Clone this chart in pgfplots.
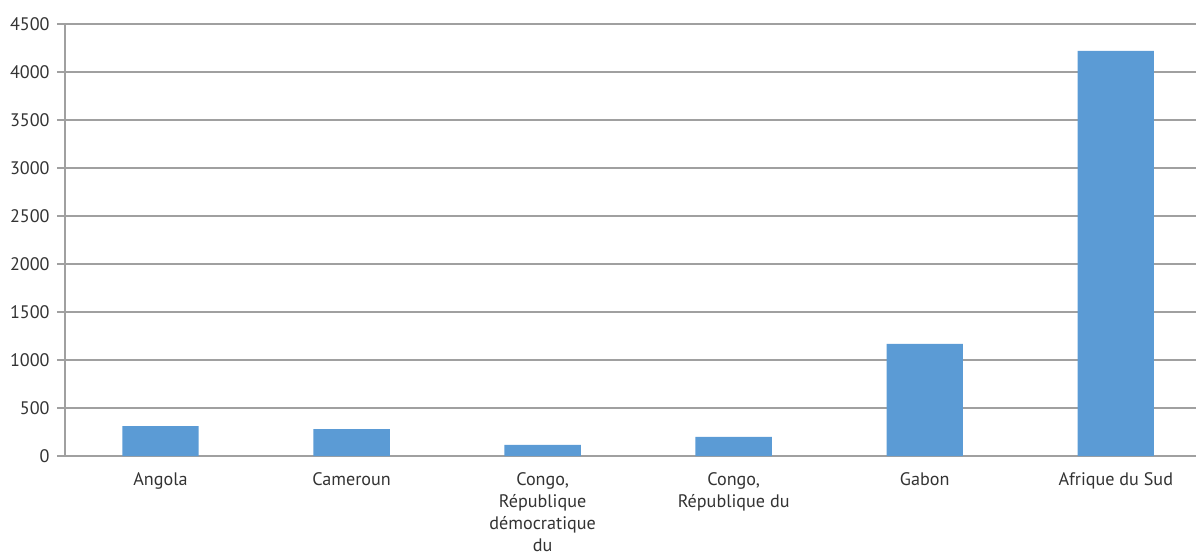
\documentclass[border=0pt]{standalone}
\usepackage{fontspec}
\setmainfont{PT Sans}
\usepackage{pgfplots}
\pgfplotsset{compat=1.18}
\definecolor{barblue}{HTML}{5B9BD5}
\definecolor{gridgray}{HTML}{A0A0A0}
\definecolor{labeltext}{HTML}{333333}
\begin{document}
\begin{tikzpicture}
\path[use as bounding box] (-48.75pt,-73.5pt) rectangle (848.25pt,342pt);
\begin{axis}[
  at={(0,0)}, anchor=south west,
  scale only axis,
  width=848.25pt, height=324pt,
  xmin=-0.5, xmax=5.42,
  ymin=0, ymax=4500,
  ytick={0,500,...,4500},
  axis x line*=bottom,
  axis y line*=left,
  axis line style={gridgray, line width=0.9pt},
  ymajorgrids,
  major grid style={gridgray, line width=0.9pt},
  tick align=outside,
  major tick length=6pt,
  tick style={gridgray, line width=0.9pt},
  xtick={0,...,5},
  xticklabels={Angola,Cameroun,{Congo,\\République\\démocratique\\du},{Congo,\\République du},Gabon,Afrique du Sud},
  x tick style={draw=none},
  extra x ticks={-0.5,0.5,1.5,2.5,3.5,4.5},
  extra x tick labels={},
  extra x tick style={x tick style={gridgray, line width=0.9pt}, major tick length=6pt},
  xticklabel style={align=center, font=\fontsize{13.6}{16.4}\selectfont, text=labeltext, yshift=-3pt},
  yticklabel style={font=\fontsize{13.6}{16.4}\selectfont, text=labeltext, xshift=-2pt},
  /pgf/number format/assume math mode=true,
  scaled y ticks=false,
  y tick label style={/pgf/number format/1000 sep={}},
  ybar, bar width=0.40,
  clip=false,
]
\addplot[fill=barblue, draw=none] coordinates {
  (0,312) (1,281) (2,115) (3,198) (4,1167) (5,4220)
};
\end{axis}
\end{tikzpicture}
\end{document}
